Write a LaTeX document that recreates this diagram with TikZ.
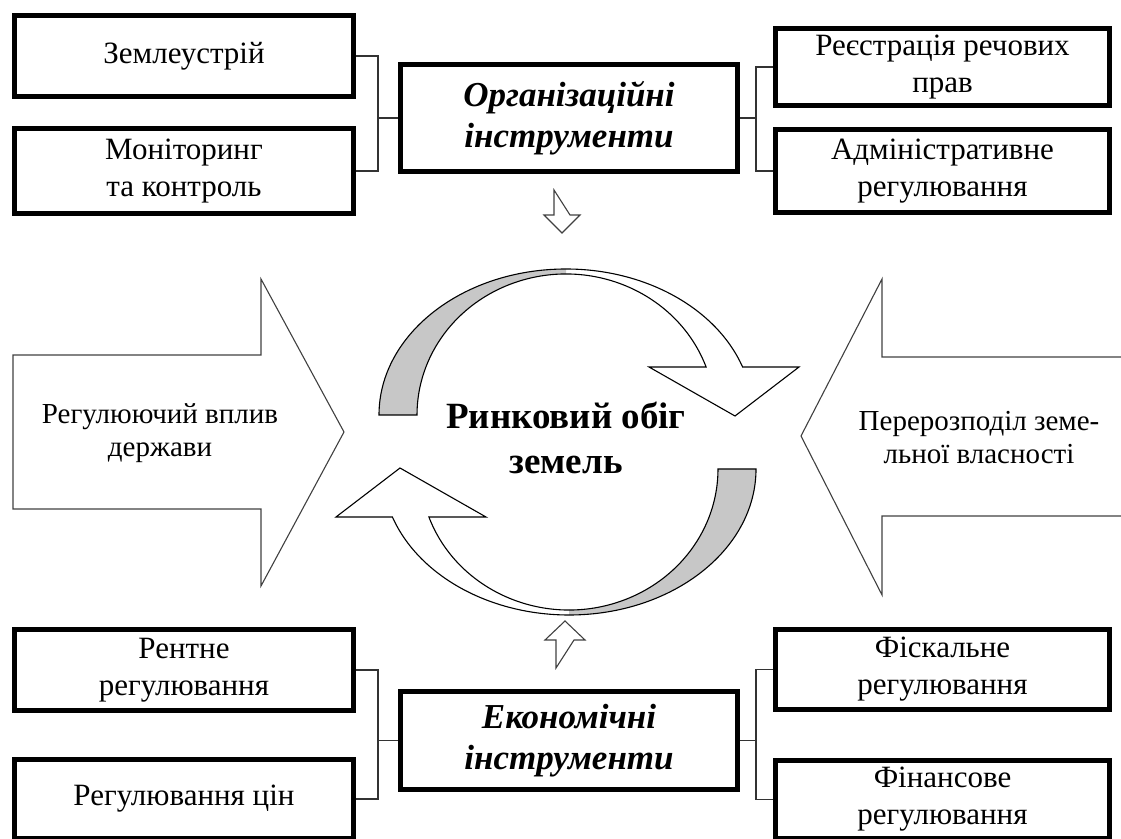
\documentclass[tikz,border=0pt]{standalone}
\usepackage{fontspec}
\setmainfont{Liberation Serif}
\newcommand{\boxfont}{\fontsize{31}{37}\selectfont}
\newcommand{\instrfont}{\fontsize{35}{41}\selectfont\bfseries\itshape}
\newcommand{\arrowfont}{\fontsize{29}{33}\selectfont}
\newcommand{\cyclefont}{\fontsize{37}{45}\selectfont\bfseries}
\begin{document}
\begin{tikzpicture}[x=1pt,y=1pt,
  box/.style={draw,line width=5pt,align=center,inner sep=0pt,font=\boxfont,minimum width=339},
  rbox/.style={box,minimum width=334},
  instr/.style={box,font=\instrfont,minimum width=337},
  link/.style={line width=1.2pt,draw=black!80},
  bigarrow/.style={line width=1.1pt,draw=black!75},
  ring/.style={line width=1.1pt},
  back/.style={fill=black!22}]
\useasboundingbox (0,0) rectangle (1121,838);
\clip (0,0) rectangle (1121,838);
\node[box,minimum height=81] (zem) at (184,782) {Землеустрій};
\node[box,minimum height=85] (mon) at (184,667) {Моніторинг\\та контроль};
\node[instr,minimum height=107] (org) at (569,720) {Організаційні\\інструменти};
\node[rbox,minimum height=77] (reestr) at (942.5,771) {Реєстрація речових\\прав};
\node[rbox,minimum height=83] (adm) at (942.5,667) {Адміністративне\\регулювання};
\node[box,minimum height=81] (rent) at (184,168) {Рентне\\регулювання};
\node[box,minimum height=79] (cin) at (184,39) {Регулювання цін};
\node[instr,minimum height=98] (ekon) at (569,97.5) {Економічні\\інструменти};
\node[rbox,minimum height=80] (fisk) at (942.5,168.5) {Фіскальне\\регулювання};
\node[rbox,minimum height=78] (fin) at (942.5,38.5) {Фінансове\\регулювання};
\draw[link] (zem.east) -- ++(22,0) |- (mon.east);
\draw[link] (org.west) -- ++(-20,0);
\draw[link] (reestr.west) -- ++(-17,0) |- (adm.west);
\draw[link] (org.east) -- ++(16,0);
\draw[link] (rent.east) -- ++(22,0) |- (cin.east);
\draw[link] (ekon.west) -- ++(-20,0);
\draw[link] (fisk.west) -- ++(-17,0) |- (fin.west);
\draw[link] (ekon.east) -- ++(16,0);
\draw[bigarrow] ([xshift=-15,yshift=-16]org.south) -- ++(0,-25) -- ++(-10,0) -- ++(18,-18) -- ++(18,18) -- ++(-10,0) -- cycle;
\draw[bigarrow] ([xshift=-13,yshift=21]ekon.north) -- ++(0,28) -- ++(-11,0) -- ++(20,19) -- ++(20,-19) -- ++(-11,0) -- cycle;
\draw[bigarrow] (13,483) -- (261,483) -- (261,559) -- (344,406) -- (261,252) -- (261,329) -- (13,329) -- cycle;
\node[font=\arrowfont,align=center] (vplyv) at (160,405) {Регулюючий вплив\\держави};
\draw[bigarrow] (1130,481) -- (882,481) -- (882,559) -- (801,402) -- (882,243) -- (882,322) -- (1130,322);
\node[font=\arrowfont,align=center] (pererozp) at (979,400) {Перерозподіл земе-\\льної власності};
\foreach \turn in {0,180}{
  \begin{scope}[rotate around={\turn:(567.5,396)}]
    \fill[back] (379,423) arc[start angle=180,end angle=90,x radius=187,y radius=146] -- (566,564) arc[start angle=90,end angle=180,x radius=149,y radius=141] -- cycle;
    \draw[ring] (379,423) arc[start angle=180,end angle=19.2,x radius=187,y radius=146] -- (799,471) -- (735,422) -- (649,471) -- (706.1,471) arc[start angle=19.9,end angle=180,x radius=149,y radius=141] -- cycle;
  \end{scope}
}
\node[font=\cyclefont,align=center] (obig) at (566,400) {Ринковий обіг\\земель};
\end{tikzpicture}
\end{document}
